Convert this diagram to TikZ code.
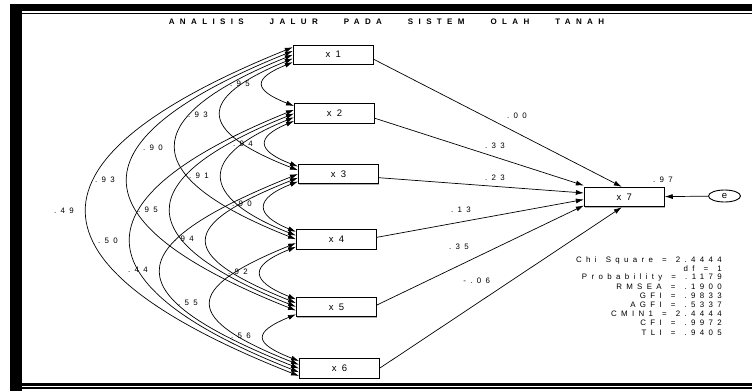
\documentclass[tikz,border=0pt]{standalone}
\usepackage{fontspec}
\setmainfont{Liberation Sans}
\newfontfamily\spaced[LetterSpace=55,WordSpace=1.4]{Liberation Sans}
\newfontfamily\titlefont[LetterSpace=67,WordSpace=2]{Liberation Sans}
\usetikzlibrary{arrows.meta,calc,shadows,shapes.geometric}

\newcommand\wsp{\hspace{26pt}}

\tikzset{
  var/.style={draw, line width=0.9pt, fill=white, minimum width=80pt,
    minimum height=19.5pt, inner sep=0pt, font=\fontsize{9.5}{10}\spaced,
    drop shadow={shadow xshift=0.8pt, shadow yshift=-1pt, fill=gray!60, opacity=1}},
  lbl/.style={inner sep=0pt, font=\fontsize{7.9}{8}\spaced},
  fit/.style={inner sep=0pt, anchor=east, font=\fontsize{7.9}{8}\spaced},
  tip/.tip={Latex[length=8pt,width=5pt]},
  effect/.style={-tip, line width=0.7pt},
  cov/.style={tip-tip, line width=0.7pt},
}

% curved two-headed arrow between the left sides of two boxes;
% #2 and #4 shift the end points down, #5 is the leftmost x of the curve
\newcommand\covar[5]{%
  \draw[cov] let \p1=($(#1.west)+(0,#2)$), \p2=($(#3.west)+(0,#4)$),
    \n1={(4*#5-(\x1+\x2)/2)/3}, \n2={0.4*((\x1+\x2)/2-\n1)} in
    (\p1) .. controls ({\n1*1pt},{\y1-\n2*1pt}) and ({\n1*1pt},{\y2+\n2*1pt}) .. (\p2);}

\begin{document}
\begin{tikzpicture}[x=1pt, y=-1pt]
\useasboundingbox (0,0) rectangle (752,391);

% page frame
\fill (10,4) rectangle (752,11);
\fill (10,4) rectangle (22,391);
\fill (19,12.8) rectangle (752,14.2);
\fill (22,382.7) rectangle (752,385.7);
\fill (19,387.3) rectangle (752,389);

\node[inner sep=0pt, font=\fontsize{8}{8}\titlefont\bfseries] (title) at (386.5,22)
  {ANALISIS\wsp JALUR\wsp PADA\wsp SISTEM\wsp OLAH\wsp TANAH};

% observed variables
\node[var] (x1) at (333.3,54.7) {x1};
\node[var] (x2) at (334.5,113.5) {x2};
\node[var] (x3) at (338.5,174) {x3};
\node[var] (x4) at (336.5,239.3) {x4};
\node[var] (x5) at (336.5,306.8) {x5};
\node[var] (x6) at (339.5,368.5) {x6};
\node[var] (x7) at (624.3,197) {x7};
\node[draw, ellipse, line width=0.9pt, minimum width=32pt, minimum height=12pt,
  inner sep=0pt, font=\fontsize{9.5}{10}\selectfont] (e) at (724.5,196) {e};

% direct effects
\draw[effect] ($(x1.east)+(0,4.6)$) -- ($(x7.north)+(-2.5,0)$);
\draw[effect] ($(x2.east)+(0,4.8)$) -- ($(x7.west)+(0,-11.5)$);
\draw[effect] ($(x3.east)+(0,3.7)$) -- ($(x7.west)+(0,-4)$);
\draw[effect] ($(x4.east)+(0,-2)$) -- ($(x7.west)+(0,2.5)$);
\draw[effect] ($(x5.east)+(0,-1.8)$) -- ($(x7.west)+(0,8.5)$);
\draw[effect] ($(x6.east)+(0,-0.5)$) -- ($(x7.south)+(-2.5,0)$);
\draw[effect] (e) -- (x7);

\node[lbl] (b1) at (517,116) {.00};
\node[lbl] (b2) at (495,146) {.33};
\node[lbl] (b3) at (495,177.3) {.23};
\node[lbl] (b4) at (461,210) {.13};
\node[lbl] (b5) at (459,246.7) {.35};
\node[lbl] (b6) at (476.7,280.7) {-.06};
\node[lbl] (r2) at (663,179.3) {.97};

% correlations
\covar{x1}{7.5}{x2}{-7.5}{263}
\covar{x1}{3.75}{x3}{-3.75}{221}
\covar{x1}{0}{x4}{0}{176}
\covar{x1}{-3.75}{x5}{3.75}{128}
\covar{x1}{-7.5}{x6}{7.5}{87}
\covar{x2}{7.5}{x3}{-7.5}{266}
\covar{x2}{3.75}{x4}{-3.75}{222}
\covar{x2}{0}{x5}{0}{171}
\covar{x2}{-3.75}{x6}{3.75}{131}
\covar{x3}{7.5}{x4}{-7.5}{265}
\covar{x3}{3.75}{x5}{-3.75}{207}
\covar{x3}{0}{x6}{0}{161}
\covar{x4}{7.5}{x5}{-7.5}{261}
\covar{x4}{3.75}{x6}{-3.75}{211}
\covar{x5}{7.5}{x6}{-7.5}{264}

\node[lbl] (c12) at (240,83.3) {.95};
\node[lbl] (c13) at (198,114.3) {.93};
\node[lbl] (c14) at (153,147.3) {.90};
\node[lbl] (c15) at (105,180) {.93};
\node[lbl] (c16) at (64,211) {.49};
\node[lbl] (c23) at (243,143.3) {.94};
\node[lbl] (c24) at (199,175.7) {.91};
\node[lbl] (c25) at (148,210) {.95};
\node[lbl] (c26) at (108,240.7) {.50};
\node[lbl] (c34) at (242,204) {.90};
\node[lbl] (c35) at (184,238.3) {.94};
\node[lbl] (c36) at (138,270) {.44};
\node[lbl] (c45) at (238,271.7) {.92};
\node[lbl] (c46) at (188,302.7) {.55};
\node[lbl] (c56) at (241,335.7) {.56};

% fit statistics
\node[fit] (s1) at (722,260) {Chi Square = 2.4444};
\node[fit] (s2) at (722,269) {df = 1};
\node[fit] (s3) at (722,277.7) {Probability = .1179};
\node[fit] (s4) at (722,286.7) {RMSEA = .1900};
\node[fit] (s5) at (722,295.7) {GFI = .9833};
\node[fit] (s6) at (722,304.5) {AGFI = .5337};
\node[fit] (s7) at (722,313.7) {CMIN1 = 2.4444};
\node[fit] (s8) at (722,323) {CFI = .9972};
\node[fit] (s9) at (722,332.3) {TLI = .9405};
\end{tikzpicture}
\end{document}
